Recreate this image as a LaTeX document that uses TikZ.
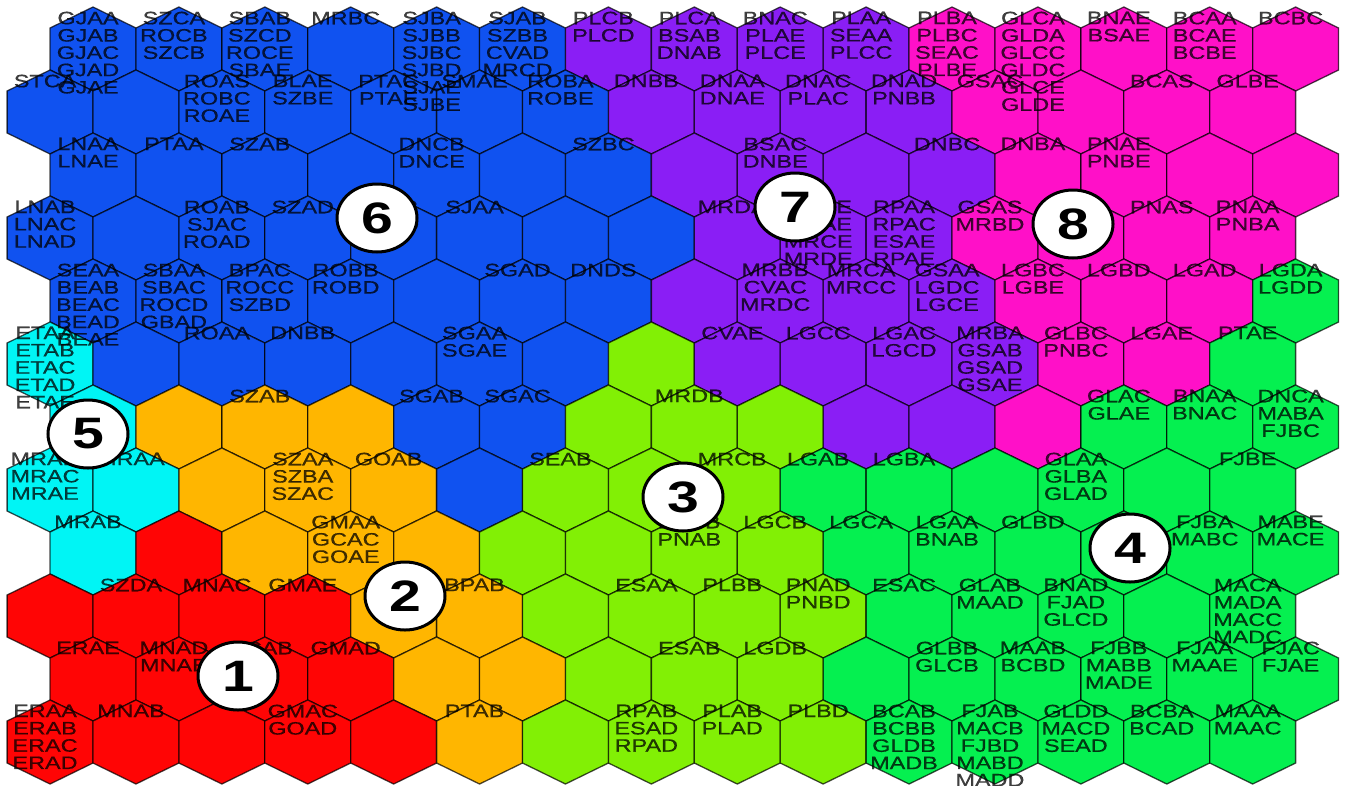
\documentclass[tikz,border=0pt]{standalone}
\usepackage{fontspec}
\setmainfont{Liberation Sans}
\newfontfamily\cellfont[FakeStretch=1.3, FakeBold=0.6]{Liberation Sans}
\newfontfamily\numfont[FakeStretch=1.3]{Liberation Sans}
\usetikzlibrary{shapes.geometric}

\definecolor{clB}{RGB}{16,82,240}
\definecolor{clP}{RGB}{138,30,245}
\definecolor{clM}{RGB}{255,16,200}
\definecolor{clG}{RGB}{5,240,80}
\definecolor{clL}{RGB}{130,240,5}
\definecolor{clO}{RGB}{255,182,0}
\definecolor{clR}{RGB}{255,5,5}
\definecolor{clC}{RGB}{0,245,245}

\begin{document}
\begin{tikzpicture}[
    x=1pt, y=-1pt,
    hexcell/.style={draw=black, draw opacity=0.7, line width=1.3pt},
    cell/.style={anchor=north, inner sep=0pt, align=center, text=black, text opacity=0.75,
      font=\cellfont\fontsize{18}{17.3}\selectfont},
    cluster/.style={ellipse, draw, line width=3pt, fill=white, minimum width=80pt,
      minimum height=68pt, inner sep=0pt, font=\numfont\bfseries\fontsize{44}{44}\selectfont}
  ]
  \useasboundingbox (0,0) rectangle (1348,785);

  % hexagon map, one row of cluster colours per line
  \foreach \rw/\hues in {
      0/{B,B,B,B,B,B,P,P,P,P,M,M,M,M,M},
      1/{B,B,B,B,B,B,B,P,P,P,P,M,M,M,M},
      2/{B,B,B,B,B,B,B,P,P,P,P,M,M,M,M},
      3/{B,B,B,B,B,B,B,B,P,P,P,M,M,M,M},
      4/{B,B,B,B,B,B,B,P,P,P,P,M,M,M,G},
      5/{C,B,B,B,B,B,B,L,P,P,P,P,M,M,G},
      6/{C,O,O,O,B,B,L,L,L,P,P,M,G,G,G},
      7/{C,C,O,O,O,B,L,L,L,G,G,G,G,G,G},
      8/{C,R,O,O,O,L,L,L,L,G,G,G,G,G,G},
      9/{R,R,R,R,O,O,L,L,L,L,G,G,G,G,G},
      10/{R,R,R,R,O,O,L,L,L,G,G,G,G,G,G},
      11/{R,R,R,R,R,O,L,L,L,L,G,G,G,G,G}}{
    \foreach \hue [count=\col from 0] in \hues {
      \pgfmathsetmacro\cx{93+85.9*\col-42.95*mod(\rw,2)}
      \pgfmathsetmacro\cy{49+63*\rw}
      \filldraw[hexcell, fill=cl\hue] (\cx,\cy-42) -- (\cx+42.95,\cy-21) -- (\cx+42.95,\cy+21)
        -- (\cx,\cy+42) -- (\cx-42.95,\cy+21) -- (\cx-42.95,\cy-21) -- cycle;
    }
  }

  % unit labels
  \foreach \col/\rw/\txt in {
      0/0/{GJAA\\GJAB\\GJAC\\GJAD\\GJAE}, 1/0/{SZCA\\ROCB\\SZCB}, 2/0/{SBAB\\SZCD\\ROCE\\SBAE},
      3/0/{MRBC}, 4/0/{SJBA\\SJBB\\SJBC\\SJBD\\SJAE\\SJBE}, 5/0/{SJAB\\SZBB\\CVAD\\MRCD},
      6/0/{PLCB\\PLCD}, 7/0/{PLCA\\BSAB\\DNAB}, 8/0/{BNAC\\PLAE\\PLCE}, 9/0/{PLAA\\SEAA\\PLCC},
      10/0/{PLBA\\PLBC\\SEAC\\PLBE}, 11/0/{GLCA\\GLDA\\GLCC\\GLDC\\GLCE\\GLDE},
      12/0/{BNAE\\BSAE}, 13/0/{BCAA\\BCAE\\BCBE}, 14/0/{BCBC},
      0/1/{STCA}, 2/1/{ROAS\\ROBC\\ROAE}, 3/1/{BLAE\\SZBE}, 4/1/{PTAC\\PTAE}, 5/1/{SMAE},
      6/1/{ROBA\\ROBE}, 7/1/{DNBB}, 8/1/{DNAA\\DNAE}, 9/1/{DNAC\\PLAC}, 10/1/{DNAD\\PNBB},
      11/1/{GSAC}, 13/1/{BCAS}, 14/1/{GLBE},
      0/2/{LNAA\\LNAE}, 1/2/{PTAA}, 2/2/{SZAB}, 4/2/{DNCB\\DNCE}, 6/2/{SZBC},
      8/2/{BSAC\\DNBE}, 10/2/{DNBC}, 11/2/{DNBA}, 12/2/{PNAE\\PNBE},
      0/3/{LNAB\\LNAC\\LNAD}, 2/3/{ROAB\\SJAC\\ROAD}, 3/3/{SZAD}, 4/3/{SJCB\\SJCD}, 5/3/{SJAA},
      8/3/{MRDA}, 9/3/{MRBE\\MRAE\\MRCE\\MRDE}, 10/3/{RPAA\\RPAC\\ESAE\\RPAE},
      11/3/{GSAS\\MRBD}, 13/3/{PNAS}, 14/3/{PNAA\\PNBA},
      0/4/{SEAA\\BEAB\\BEAC\\BEAD\\BEAE}, 1/4/{SBAA\\SBAC\\ROCD\\GBAD}, 2/4/{BPAC\\ROCC\\SZBD},
      3/4/{ROBB\\ROBD}, 5/4/{SGAD}, 6/4/{DNDS}, 8/4/{MRBB\\CVAC\\MRDC}, 9/4/{MRCA\\MRCC},
      10/4/{GSAA\\LGDC\\LGCE}, 11/4/{LGBC\\LGBE}, 12/4/{LGBD}, 13/4/{LGAD}, 14/4/{LGDA\\LGDD},
      0/5/{ETAA\\ETAB\\ETAC\\ETAD\\ETAE}, 2/5/{ROAA}, 3/5/{DNBB}, 5/5/{SGAA\\SGAE},
      8/5/{CVAE}, 9/5/{LGCC}, 10/5/{LGAC\\LGCD}, 11/5/{MRBA\\GSAB\\GSAD\\GSAE},
      12/5/{GLBC\\PNBC}, 13/5/{LGAE}, 14/5/{PTAE},
      2/6/{SZAB}, 4/6/{SGAB}, 5/6/{SGAC}, 7/6/{MRDB}, 12/6/{GLAC\\GLAE}, 13/6/{BNAA\\BNAC},
      14/6/{DNCA\\MABA\\FJBC},
      0/7/{MRAD\\MRAC\\MRAE}, 1/7/{MRAA}, 3/7/{SZAA\\SZBA\\SZAC}, 4/7/{GOAB}, 6/7/{SEAB},
      8/7/{MRCB}, 9/7/{LGAB}, 10/7/{LGBA}, 12/7/{GLAA\\GLBA\\GLAD}, 14/7/{FJBE},
      0/8/{MRAB}, 3/8/{GMAA\\GCAC\\GOAE}, 7/8/{LGBB\\PNAB}, 8/8/{LGCB}, 9/8/{LGCA},
      10/8/{LGAA\\BNAB}, 11/8/{GLBD}, 13/8/{FJBA\\MABC}, 14/8/{MABE\\MACE},
      1/9/{SZDA}, 2/9/{MNAC}, 3/9/{GMAE}, 5/9/{BPAB}, 7/9/{ESAA}, 8/9/{PLBB}, 9/9/{PNAD\\PNBD},
      10/9/{ESAC}, 11/9/{GLAB\\MAAD}, 12/9/{BNAD\\FJAD\\GLCD}, 14/9/{MACA\\MADA\\MACC\\MADC},
      0/10/{ERAE}, 1/10/{MNAD\\MNAE}, 2/10/{GCAB}, 3/10/{GMAD}, 7/10/{ESAB}, 8/10/{LGDB},
      10/10/{GLBB\\GLCB}, 11/10/{MAAB\\BCBD}, 12/10/{FJBB\\MABB\\MADE}, 13/10/{FJAA\\MAAE},
      14/10/{FJAC\\FJAE},
      0/11/{ERAA\\ERAB\\ERAC\\ERAD}, 1/11/{MNAB}, 3/11/{GMAC\\GOAD}, 5/11/{PTAB},
      7/11/{RPAB\\ESAD\\RPAD}, 8/11/{PLAB\\PLAD}, 9/11/{PLBD}, 10/11/{BCAB\\BCBB\\GLDB\\MADB},
      11/11/{FJAB\\MACB\\FJBD\\MABD\\MADD}, 12/11/{GLDD\\MACD\\SEAD}, 13/11/{BCBA\\BCAD},
      14/11/{MAAA\\MAAC}}{
    \pgfmathsetmacro\cx{93+85.9*\col-42.95*mod(\rw,2)}
    \pgfmathsetmacro\cy{49+63*\rw}
    \node[cell] (t-\col-\rw) at (\cx-5,\cy-37.5) {\txt};
  }

  % cluster numbers
  \node[cluster] (k1) at (238,676) {1};
  \node[cluster] (k2) at (405,596) {2};
  \node[cluster] (k3) at (683,497) {3};
  \node[cluster] (k4) at (1130,548) {4};
  \node[cluster] (k5) at (88,434) {5};
  \node[cluster] (k6) at (377,218) {6};
  \node[cluster] (k7) at (795,207) {7};
  \node[cluster] (k8) at (1073,224) {8};
\end{tikzpicture}
\end{document}
